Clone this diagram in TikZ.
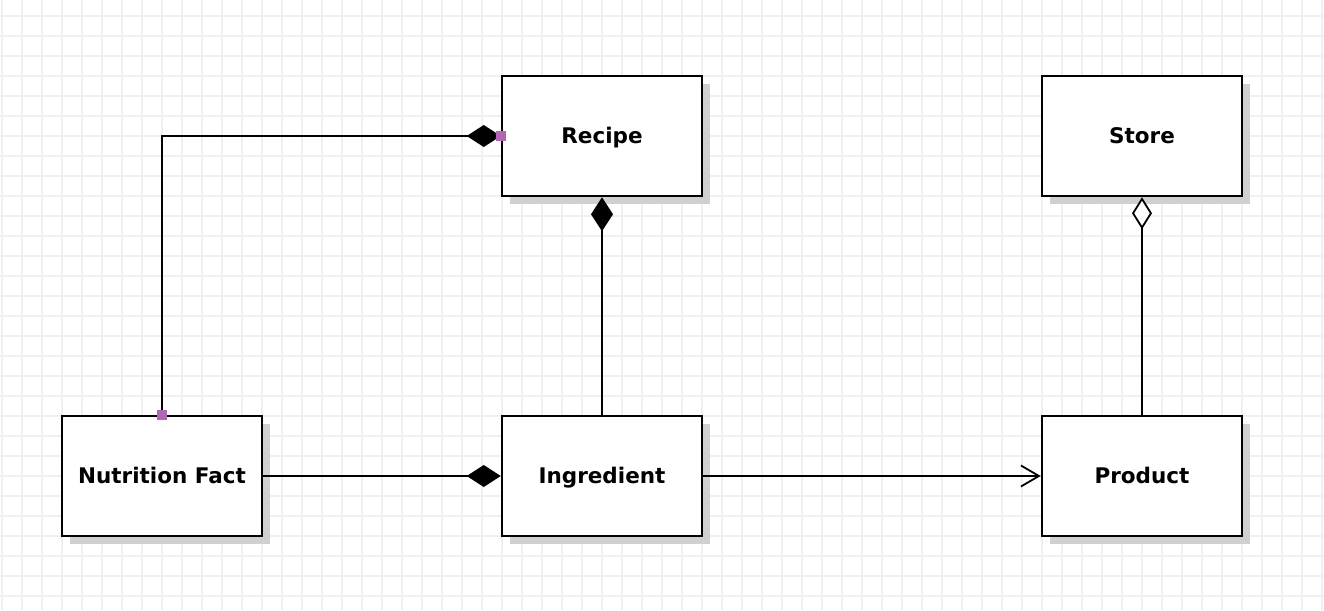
\documentclass[tikz,border=0pt]{standalone}
\usepackage{fontspec}
\setmainfont{DejaVu Sans}
\usetikzlibrary{arrows.meta,shadows}
\definecolor{gridc}{HTML}{F0F0F0}
\definecolor{shadowc}{HTML}{D0D0D0}
\definecolor{portc}{HTML}{B366B3}
\begin{document}
\begin{tikzpicture}[x=1pt,y=-1pt,
  cls/.style={draw=black, line width=2.5pt, fill=white, minimum width=200pt, minimum height=120pt,
    inner sep=0pt, text height=18pt, text depth=4pt, font=\fontsize{21.5}{25}\selectfont\bfseries,
    drop shadow={shadow xshift=8pt, shadow yshift=-8pt, fill=shadowc, opacity=1}},
  conn/.style={draw=black, line width=1.8pt},
  comp/.style={conn, -{Diamond[length=34pt, width=22pt]}},
  compr/.style={conn, {Diamond[length=34pt, width=22pt]}-},
  aggr/.style={conn, {Diamond[fill=white, length=32pt, width=20pt]}-},
  navi/.style={conn, -{Straight Barb[length=18pt, width=21pt]}},
  port/.style={fill=portc, draw=none, minimum size=10pt, inner sep=0pt}]
\useasboundingbox (0,0) rectangle (1324,610);
\fill[white] (0,0) rectangle (1324,610);
\foreach \gx in {2,22,...,1322} \draw[gridc, line width=1.5pt] (\gx,0) -- (\gx,610);
\foreach \gy in {16,36,...,606} \draw[gridc, line width=1.5pt] (0,\gy) -- (1324,\gy);

\node[cls] (recipe) at (602,136) {Recipe};
\node[cls] (store) at (1142,136) {Store};
\node[cls] (nf) at (162,476) {Nutrition Fact};
\node[cls] (ing) at (602,476) {Ingredient};
\node[cls] (prod) at (1142,476) {Product};

\draw[comp] (nf.north) |- (recipe.west);
\draw[compr] (recipe.south) -- (ing.north);
\draw[comp] (nf.east) -- (ing.west);
\draw[navi] (ing.east) -- (prod.west);
\draw[aggr] (store.south) -- (prod.north);

\node[port] (p1) at (nf.north) {};
\node[port] (p2) at (recipe.west) {};
\end{tikzpicture}
\end{document}
